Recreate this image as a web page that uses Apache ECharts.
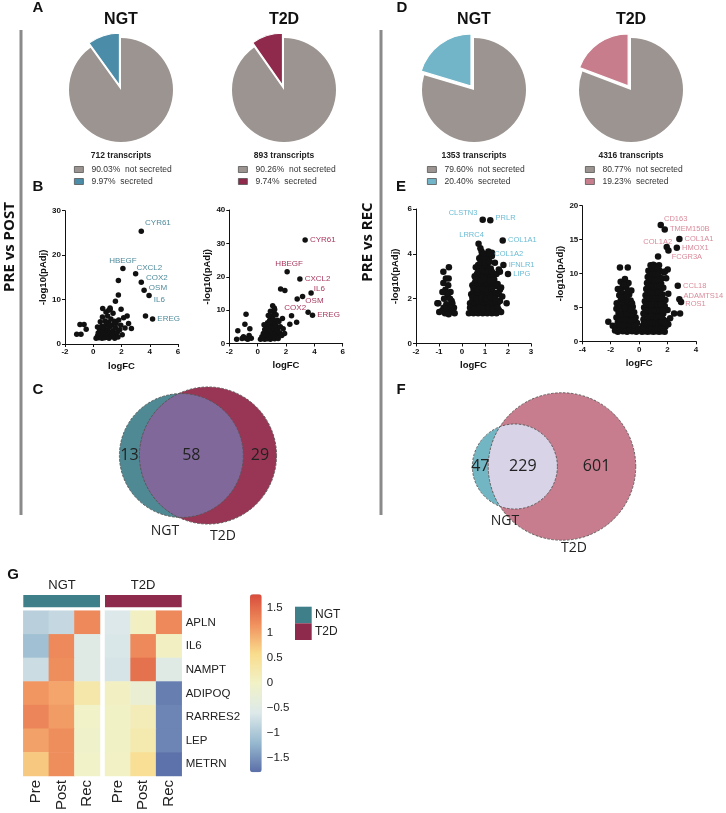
<!DOCTYPE html>
<html><head><meta charset="utf-8">
<script src="https://cdn.jsdelivr.net/npm/echarts@6/dist/echarts.min.js"></script>
<style>html,body{margin:0;padding:0;background:#fff}#c{width:726px;height:813px}</style>
</head><body><div id="c"></div>
<script>
// ---------------- DATA ----------------
const pieGroups = ['NGT', 'T2D', 'NGT', 'T2D'];
const pieTranscripts = [712, 893, 1353, 4316];
const pieNotSecreted = [90.03, 90.26, 79.60, 80.77];
const pieSecreted = [9.97, 9.74, 20.40, 19.23];

const bNGT_names = ['CYR61', 'HBEGF', 'CXCL2', 'COX2', 'OSM', 'IL6', 'EREG'];
const bNGT_labeled = [[3.4, 25.4], [2.1, 17.0], [3.0, 15.8], [3.4, 13.9], [3.6, 12.1], [3.95, 10.9], [4.2, 5.6]];
const bNGT_other = [[3.7, 6.3], [1.78, 14.3], [1.78, 11.0], [1.57, 9.6], [0.67, 8.0], [1.19, 8.1], [1.97, 7.8], [2.4, 6.3], [2.7, 3.5], [1.2, 7.8],
  [-1.17, 2.2], [-0.87, 2.2], [-0.94, 4.4], [-0.65, 4.4], [-0.5, 3.3],
  [0.2, 1.3], [0.3, 1.8], [0.35, 2.5], [0.4, 1.4], [0.45, 3.2], [0.5, 1.6], [0.55, 2.2], [0.6, 4.0], [0.62, 1.3], [0.7, 2.8], [0.72, 1.9], [0.78, 3.6],
  [0.8, 1.4], [0.85, 5.2], [0.88, 2.4], [0.9, 4.4], [0.95, 1.5], [1.0, 3.1], [1.02, 6.3], [1.05, 2.0], [1.1, 4.9], [1.12, 1.3], [1.15, 3.8], [1.2, 2.6],
  [1.25, 5.6], [1.3, 1.7], [1.32, 4.2], [1.38, 3.0], [1.4, 6.9], [1.45, 2.2], [1.5, 5.1], [1.52, 1.3], [1.58, 3.6], [1.62, 4.6], [1.7, 2.6], [1.75, 1.6],
  [1.8, 5.4], [1.88, 3.2], [1.95, 4.2], [2.05, 2.1], [2.15, 5.9], [2.25, 3.6], [2.5, 4.6], [0.3, 3.8], [0.5, 5.0], [0.65, 6.1], [0.9, 7.2], [1.1, 7.6]];

const bT2D_names = ['CYR61', 'HBEGF', 'CXCL2', 'IL6', 'OSM', 'COX2', 'EREG'];
const bT2D_labeled = [[3.35, 31.0], [2.08, 21.5], [2.98, 19.3], [3.77, 15.1], [3.17, 14.1], [2.79, 13.3], [3.87, 8.5]];
const bT2D_other = [[1.62, 16.3], [1.92, 15.9], [2.39, 8.3], [2.27, 5.8], [2.75, 6.4], [3.56, 9.4], [1.06, 11.3], [1.17, 10.6],
  [-0.82, 8.8], [-0.9, 5.8], [-1.4, 3.8], [-1.48, 1.3], [-0.55, 4.4], [-1.0, 2.0], [-0.8, 1.5], [-0.6, 2.4], [-0.7, 1.3], [-0.45, 1.6], [-1.1, 1.5],
  [0.2, 1.3], [0.3, 2.0], [0.35, 1.5], [0.4, 3.0], [0.45, 2.4], [0.5, 1.3], [0.5, 4.2], [0.55, 3.4], [0.6, 1.8], [0.6, 5.3], [0.65, 2.7], [0.7, 6.2],
  [0.7, 1.4], [0.75, 4.6], [0.8, 3.6], [0.8, 2.1], [0.85, 7.0], [0.85, 5.6], [0.9, 1.3], [0.9, 4.0], [0.95, 2.8], [1.0, 6.4], [1.0, 1.7], [1.0, 8.2],
  [1.05, 3.4], [1.05, 5.0], [1.1, 7.3], [1.1, 2.3], [1.15, 9.3], [1.15, 4.5], [1.2, 1.4], [1.2, 6.0], [1.25, 3.0], [1.3, 8.6], [1.3, 5.3], [1.35, 2.0],
  [1.4, 7.0], [1.4, 4.1], [1.45, 1.5], [1.5, 6.6], [1.55, 3.2], [1.6, 5.0], [1.7, 2.4], [1.75, 7.5], [1.8, 4.4], [1.9, 3.0], [0.9, 9.7], [1.2, 10.2],
  [0.75, 8.4], [0.45, 5.6]];

const eNGT_names = ['CLSTN3', 'PRLR', 'LRRC4', 'COL1A1', 'COL1A2', 'IFNLR1', 'LIPG'];
const eNGT_labeled = [[0.9, 5.52], [1.23, 5.5], [0.72, 4.45], [1.77, 4.6], [1.22, 4.02], [1.8, 3.5], [2.0, 3.1]];
const eNGT_other = [[1.43, 3.6], [0.8, 4.25], [0.85, 4.1], [1.65, 2.4], [1.94, 1.8],
  [-0.57, 3.4], [-0.81, 3.2], [-0.81, 2.7], [-1.07, 1.8], [-1.03, 1.8], [-0.99, 1.4], [-0.7, 2.9], [-0.6, 2.6], [-0.72, 2.4], [-0.5, 2.3], [-0.62, 2.1],
  [-0.78, 2.0], [-0.45, 1.9], [-0.55, 1.7], [-0.68, 1.75], [-0.8, 1.6], [-0.4, 1.5], [-0.5, 1.4], [-0.62, 1.45], [-0.74, 1.35], [-0.32, 1.35],
  [-0.42, 1.8], [-0.88, 1.45], [-0.66, 1.55], [-0.52, 2.0], [-0.35, 1.6], [-0.58, 2.9], [-0.66, 2.25], [-0.48, 1.6], [-0.85, 2.3], [-0.58, 1.3],
  [0.3, 1.35], [0.4, 1.5], [0.5, 1.35], [0.6, 1.45], [0.7, 1.35], [0.8, 1.5], [0.9, 1.35], [1.0, 1.45], [1.1, 1.35], [1.2, 1.5], [1.3, 1.35], [1.4, 1.45],
  [1.5, 1.35], [1.6, 1.5], [1.7, 1.4], [0.35, 1.8], [0.45, 1.9], [0.55, 1.75], [0.65, 1.85], [0.75, 1.8], [0.85, 1.9], [0.95, 1.75], [1.05, 1.85],
  [1.15, 1.8], [1.25, 1.9], [1.35, 1.75], [1.45, 1.85], [1.55, 1.8], [1.65, 1.9], [0.4, 2.2], [0.5, 2.3], [0.6, 2.15], [0.7, 2.25], [0.8, 2.2],
  [0.9, 2.3], [1.0, 2.15], [1.1, 2.25], [1.2, 2.2], [1.3, 2.3], [1.4, 2.15], [1.5, 2.25], [1.6, 2.2], [1.75, 2.1], [0.45, 2.6], [0.55, 2.7],
  [0.65, 2.55], [0.75, 2.65], [0.85, 2.6], [0.95, 2.7], [1.05, 2.55], [1.15, 2.65], [1.25, 2.6], [1.35, 2.7], [1.45, 2.55], [1.55, 2.65], [1.7, 2.5],
  [0.55, 3.0], [0.65, 3.1], [0.75, 2.95], [0.85, 3.05], [0.95, 3.0], [1.05, 3.1], [1.15, 2.95], [1.25, 3.05], [1.35, 3.0], [1.5, 3.1], [1.65, 3.2],
  [0.6, 3.4], [0.7, 3.5], [0.8, 3.35], [0.9, 3.45], [1.0, 3.4], [1.1, 3.5], [1.25, 3.35], [1.6, 3.3], [0.75, 3.8], [0.85, 3.9], [0.95, 3.75],
  [1.1, 3.85], [1.3, 3.9], [1.15, 4.1], [1.3, 4.05],
  [0.35, 1.6], [0.55, 1.55], [0.75, 1.6], [0.95, 1.55], [1.15, 1.6], [1.35, 1.55], [1.55, 1.6], [0.45, 2.05], [0.65, 2.0], [0.85, 2.05], [1.05, 2.0],
  [1.25, 2.05], [1.45, 2.0], [0.5, 2.45], [0.7, 2.4], [0.9, 2.45], [1.1, 2.4], [1.3, 2.45], [0.6, 2.85], [0.8, 2.8], [1.0, 2.85], [1.2, 2.8], [1.4, 2.85],
  [0.7, 3.2], [0.9, 3.25], [1.1, 3.2], [1.3, 3.2], [0.8, 3.6], [1.0, 3.6], [1.2, 3.65], [0.95, 4.0]];

const eT2D_names = ['CD163', 'TMEM150B', 'COL1A1', 'COL1A2', 'HMOX1', 'FCGR3A', 'CCL18', 'ADAMTS14', 'ROS1'];
const eT2D_labeled = [[1.52, 17.15], [1.8, 16.5], [2.83, 15.1], [1.94, 13.9], [2.65, 13.8], [2.06, 13.4], [2.72, 8.2], [2.83, 6.2], [2.95, 5.8]];
const eT2D_other = [[1.33, 12.5], [2.01, 10.6], [1.82, 10.3], [2.46, 4.1], [2.18, 3.4], [2.88, 4.1],
  [-1.35, 10.9], [-0.8, 10.9], [-1.58, 5.6], [-2.17, 2.9], [-1.86, 2.3], [-1.5, 7.7], [-1.2, 7.9], [-0.9, 8.0], [-1.4, 6.8], [-1.0, 7.0], [-0.7, 6.9],
  [-1.3, 6.0], [-0.95, 6.2], [-0.6, 6.0], [-1.6, 4.8], [-1.2, 5.2], [-0.8, 5.4], [-0.45, 5.1], [-1.45, 4.2], [-1.05, 4.5], [-0.7, 4.4], [-0.35, 4.3],
  [-1.6, 3.5], [-1.25, 3.7], [-0.9, 3.6], [-0.55, 3.8], [-0.25, 3.5], [-1.5, 2.8], [-1.15, 2.9], [-0.8, 2.8], [-0.45, 2.9], [-0.15, 2.7], [-1.65, 2.0],
  [-1.3, 2.1], [-0.95, 2.0], [-0.6, 2.2], [-0.3, 2.0], [-1.5, 1.4], [-1.15, 1.5], [-0.85, 1.4], [-0.5, 1.5], [-0.2, 1.4], [-1.0, 9.2], [-0.75, 8.6],
  [-1.3, 8.8], [-0.55, 7.5], [-1.7, 1.6], [-0.1, 1.9],
  [-1.35, 1.8], [-1.0, 1.7], [-0.65, 1.8], [-0.35, 1.7], [-1.4, 2.5], [-1.05, 2.4], [-0.7, 2.5], [-0.35, 2.4], [-1.35, 3.2], [-1.0, 3.2], [-0.7, 3.1],
  [-0.4, 3.2], [-1.3, 4.0], [-0.9, 4.1], [-0.55, 4.0], [-1.4, 5.0], [-1.0, 4.9], [-0.6, 4.7], [-1.1, 5.8], [-0.8, 6.0], [-0.5, 5.6], [-1.2, 6.5],
  [-0.85, 6.6], [-1.3, 7.3], [-0.8, 7.4], [-1.1, 8.4],
  [0.2, 1.4], [0.4, 1.5], [0.6, 1.4], [0.8, 1.5], [1.0, 1.4], [1.2, 1.5], [1.4, 1.4], [1.6, 1.5], [1.8, 1.4], [0.25, 2.3], [0.45, 2.2], [0.65, 2.4],
  [0.85, 2.2], [1.05, 2.3], [1.25, 2.2], [1.45, 2.4], [1.65, 2.3], [1.85, 2.2], [2.05, 2.5], [0.3, 3.2], [0.5, 3.1], [0.7, 3.3], [0.9, 3.1], [1.1, 3.2],
  [1.3, 3.3], [1.5, 3.1], [1.7, 3.2], [1.95, 3.0], [0.3, 4.1], [0.5, 4.2], [0.7, 4.0], [0.9, 4.2], [1.1, 4.1], [1.3, 4.0], [1.5, 4.2], [1.7, 4.1],
  [2.0, 4.6], [0.35, 5.0], [0.55, 5.1], [0.75, 4.9], [0.95, 5.1], [1.15, 5.0], [1.35, 4.9], [1.55, 5.1], [1.8, 5.2], [0.4, 5.9], [0.6, 6.0], [0.8, 5.8],
  [1.0, 6.0], [1.2, 5.9], [1.4, 5.8], [1.6, 6.0], [1.85, 6.1], [0.45, 6.8], [0.65, 6.9], [0.85, 6.7], [1.05, 6.9], [1.25, 6.8], [1.45, 6.7], [1.65, 6.9],
  [0.5, 7.7], [0.7, 7.8], [0.9, 7.6], [1.1, 7.8], [1.3, 7.7], [1.5, 7.6], [1.7, 7.9], [2.05, 7.0], [0.55, 8.6], [0.75, 8.7], [0.95, 8.5], [1.15, 8.7],
  [1.35, 8.6], [1.55, 8.5], [0.6, 9.5], [0.8, 9.6], [1.0, 9.4], [1.2, 9.6], [1.4, 9.5], [1.6, 9.3], [1.9, 9.3], [0.65, 10.4], [0.85, 10.5], [1.05, 10.3],
  [1.25, 10.5], [1.45, 10.4], [1.75, 10.2], [0.8, 11.2], [1.0, 11.3], [1.2, 11.1], [1.4, 11.2],
  [0.3, 1.85], [0.5, 1.8], [0.7, 1.9], [0.9, 1.85], [1.1, 1.8], [1.3, 1.9], [1.5, 1.85], [1.7, 1.8], [0.35, 2.75], [0.55, 2.7], [0.75, 2.8], [0.95, 2.7],
  [1.15, 2.75], [1.35, 2.7], [1.55, 2.8], [1.8, 2.7], [0.4, 3.65], [0.6, 3.6], [0.8, 3.7], [1.0, 3.65], [1.2, 3.6], [1.4, 3.7], [1.6, 3.65],
  [0.45, 4.55], [0.65, 4.6], [0.85, 4.5], [1.05, 4.6], [1.25, 4.55], [1.45, 4.6], [1.65, 4.5], [0.5, 5.45], [0.7, 5.5], [0.9, 5.4], [1.1, 5.5],
  [1.3, 5.45], [1.5, 5.5], [0.55, 6.35], [0.75, 6.4], [0.95, 6.3], [1.15, 6.4], [1.35, 6.35], [1.55, 6.4], [0.6, 7.25], [0.8, 7.3], [1.0, 7.2],
  [1.2, 7.3], [1.4, 7.25], [0.65, 8.15], [0.85, 8.2], [1.05, 8.1], [1.25, 8.2], [1.45, 8.15], [0.7, 9.05], [0.9, 9.1], [1.1, 9.0], [1.3, 9.1],
  [0.75, 9.95], [0.95, 10.0], [1.15, 9.9], [1.35, 10.0], [0.9, 10.8], [1.1, 10.85], [1.3, 10.8]];

// Venn counts: [NGT only, shared, T2D only]
const vennC_counts = [13, 58, 29];
const vennF_counts = [47, 229, 601];

// Heatmap
const heatGenes = ['APLN', 'IL6', 'NAMPT', 'ADIPOQ', 'RARRES2', 'LEP', 'METRN'];
const heatConditions = ['Pre', 'Post', 'Rec'];
const heatNGT = [[-0.9, -0.8, 1.25], [-1.1, 1.25, -0.5], [-0.75, 1.2, -0.5], [1.15, 1.02, 0.3], [1.28, 1.1, 0.0], [1.05, 1.2, -0.05], [0.75, 1.2, 0.0]];
const heatT2D = [[-0.6, 0.05, 1.25], [-0.62, 1.25, 0.06], [-0.65, 1.45, -0.5], [0.05, -0.2, -1.65], [0.02, 0.15, -1.6], [0.02, 0.25, -1.6], [0.03, 0.5, -1.75]];
const heatTicks = [-1.5, -1, -0.5, 0, 0.5, 1, 1.5];

// ---------------- STYLE / LAYOUT ----------------
const FONT = 'Liberation Sans';
const GREY = '#9b9491';
const pieColors = ['#4b8ca8', '#8f2a4c', '#72b5c9', '#c77d8c'];
const pieCenters = [[121, 90], [284, 90], [474, 90], [631, 90]];
const pieLegendLeft = [74, 238, 427, 585];

const chart = echarts.init(document.getElementById('c'), null, {renderer: 'canvas'});
const series = [];
const legends = [];
const graphics = [];

// Pies
pieGroups.forEach((g, i) => {
  const n1 = pieNotSecreted[i].toFixed(2) + '%  not secreted';
  const n2 = pieSecreted[i].toFixed(2) + '%  secreted';
  series.push({
    type: 'pie', center: pieCenters[i], radius: 52, startAngle: 90, clockwise: true, silent: true,
    selectedMode: 'single', selectedOffset: 5, label: {show: false}, labelLine: {show: false},
    emphasis: {disabled: true},
    data: [
      {name: n1, value: pieNotSecreted[i], itemStyle: {color: GREY}},
      {name: n2, value: pieSecreted[i], selected: true, itemStyle: {color: pieColors[i], borderColor: '#fff', borderWidth: 1.2}}
    ]
  });
  legends.push({
    data: [n1, n2], orient: 'vertical', left: pieLegendLeft[i], top: 165, padding: 0, itemGap: 3,
    itemWidth: 9, itemHeight: 6, icon: 'rect', selectedMode: false,
    itemStyle: {borderColor: '#555', borderWidth: 0.8},
    textStyle: {fontSize: 8.5, color: '#333', fontFamily: FONT, padding: [0, 0, 0, 3]}
  });
  graphics.push({type: 'text', x: pieCenters[i][0], y: 20, style: {text: g, font: 'bold 16px ' + FONT, fill: '#111', align: 'center', verticalAlign: 'middle', textAlign: 'center', textVerticalAlign: 'middle'}});
  graphics.push({type: 'text', x: pieCenters[i][0], y: 156, style: {text: pieTranscripts[i] + ' transcripts', font: 'bold 8.5px ' + FONT, fill: '#222', align: 'center', verticalAlign: 'middle', textAlign: 'center', textVerticalAlign: 'middle'}});
});

// Grids
const grids = [
  {left: 65, top: 210.7, width: 113, height: 133.3},
  {left: 229.3, top: 210, width: 113.4, height: 133.5},
  {left: 416, top: 209, width: 115, height: 134.5},
  {left: 582.3, top: 205.7, width: 113.7, height: 135.6},
  {left: 23.3, top: 610.7, width: 76.7, height: 166},
  {left: 105, top: 610.7, width: 76.7, height: 166},
  {left: 250, top: 594.3, width: 11.7, height: 178}
];
const volAxes = [
  {xmin: -2, xmax: 6, xi: 2, ymin: 0, ymax: 30, yi: 10},
  {xmin: -2, xmax: 6, xi: 2, ymin: 0, ymax: 40, yi: 10},
  {xmin: -2, xmax: 3, xi: 1, ymin: 0, ymax: 6, yi: 2},
  {xmin: -4, xmax: 4, xi: 2, ymin: 0, ymax: 20, yi: 5}
];
const xAxes = [], yAxes = [];
volAxes.forEach((a, i) => {
  const common = {
    gridIndex: i, type: 'value', splitLine: {show: false},
    axisLine: {show: true, onZero: false, lineStyle: {color: '#111', width: 1}},
    axisTick: {show: true, inside: false, length: 3, lineStyle: {color: '#111'}},
    axisLabel: {fontSize: 8, fontWeight: 'bold', color: '#111', fontFamily: FONT, margin: 4},
    nameTextStyle: {fontSize: 9.5, fontWeight: 'bold', color: '#111', fontFamily: FONT},
    nameLocation: 'middle'
  };
  xAxes.push(Object.assign({}, common, {min: a.xmin, max: a.xmax, interval: a.xi, name: 'logFC', nameGap: 17}));
  yAxes.push(Object.assign({}, common, {min: a.ymin, max: a.ymax, interval: a.yi, name: '-log10(pAdj)', nameGap: 16}));
});

const volLabelColors = ['#4f8b9c', '#a8385f', '#6bbcd4', '#d98b9b'];
const volLabelPlace = [
  [['right', [-1, -8]], ['top', [0, 1]], ['right', [-4, -6]], ['right', [0, -4]], ['right', [0, -2]], ['right', [0, 4]], ['right', [0, 0]]],
  [['right', [0, 0]], ['top', [2, 1]], ['right', [0, 0]], ['right', [-2, -4]], ['right', [-2, 4]], ['bottom', [-2, 0]], ['right', [0, 0]]],
  [['left', [0, -7]], ['right', [0, -2]], ['top', [-7, 0]], ['right', [0, 0]], ['right', [-1, 1]], ['right', [0, 0]], ['right', [0, 0]]],
  [['right', [-2, -6]], ['right', [0, 0]], ['right', [0, 0]], ['top', [-9, 4]], ['right', [0, 0]], ['right', [-2, 6]], ['right', [0, 0]], ['right', [-1, -3]], ['right', [-1, 2]]]
];
const volSymbol = [5.5, 5.5, 6.5, 6.5];
const volData = [
  [bNGT_names, bNGT_labeled, bNGT_other],
  [bT2D_names, bT2D_labeled, bT2D_other],
  [eNGT_names, eNGT_labeled, eNGT_other],
  [eT2D_names, eT2D_labeled, eT2D_other]
];
volData.forEach((d, i) => {
  const [names, lab, other] = d;
  const fs = i < 2 ? 8 : 7.5;
  const data = other.map(p => ({value: p}));
  lab.forEach((p, k) => {
    const pl = volLabelPlace[i][k];
    data.push({value: p, name: names[k], label: {show: true, position: pl[0], offset: pl[1]}});
  });
  series.push({
    type: 'scatter', xAxisIndex: i, yAxisIndex: i, symbolSize: volSymbol[i], silent: true,
    itemStyle: {color: '#111', opacity: 1},
    label: {show: false, formatter: '{b}', color: volLabelColors[i], fontSize: fs, fontFamily: FONT, distance: 2},
    emphasis: {disabled: true},
    data: data
  });
});

// Heatmap axes
[4, 5].forEach((gi, k) => {
  xAxes.push({gridIndex: gi, type: 'category', data: heatConditions, axisLine: {show: false}, axisTick: {show: false},
    axisLabel: {rotate: 90, fontSize: 15, color: '#222', fontFamily: FONT, margin: 4}});
  yAxes.push({gridIndex: gi, type: 'category', data: heatGenes, inverse: true, position: 'right', show: k === 1,
    axisLine: {show: false}, axisTick: {show: false}, axisLabel: {fontSize: 11.5, color: '#222', fontFamily: FONT, margin: 4}});
});
// colorbar axis
xAxes.push({gridIndex: 6, type: 'value', show: false, min: 0, max: 1});
yAxes.push({gridIndex: 6, type: 'value', min: -1.78, max: 1.78, position: 'right', splitLine: {show: false},
  axisLine: {show: false}, axisTick: {show: false},
  axisLabel: {customValues: heatTicks, fontSize: 11.5, color: '#222', fontFamily: FONT, margin: 5,
    formatter: v => (v < 0 ? '\u2212' + Math.abs(v) : String(v))}});

const heatIdx = [];
[heatNGT, heatT2D].forEach((m, k) => {
  const data = [];
  m.forEach((row, r) => row.forEach((v, c) => data.push([c, r, v])));
  heatIdx.push(series.length);
  series.push({type: 'heatmap', xAxisIndex: 4 + k, yAxisIndex: 4 + k, data: data, silent: true,
    itemStyle: {borderWidth: 0}, emphasis: {disabled: true}});
});

// Venn diagrams
function lensArea(r1, r2, d) {
  if (d >= r1 + r2) return 0;
  if (d <= Math.abs(r1 - r2)) return Math.PI * Math.min(r1, r2) ** 2;
  const a1 = Math.acos((d * d + r1 * r1 - r2 * r2) / (2 * d * r1));
  const a2 = Math.acos((d * d + r2 * r2 - r1 * r1) / (2 * d * r2));
  const k = Math.sqrt((-d + r1 + r2) * (d + r1 - r2) * (d - r1 + r2) * (d + r1 + r2));
  return r1 * r1 * a1 + r2 * r2 * a2 - 0.5 * k;
}
function vennSeries(counts, cfg) {
  return {
    type: 'custom', coordinateSystem: 'none', silent: true, data: [0],
    renderItem: function () {
      const [a, ab, b] = counts;
      const s = cfg.scale;
      const r1 = s * Math.sqrt(a + ab), r2 = s * Math.sqrt(b + ab);
      const target = Math.PI * s * s * ab;
      let lo = Math.abs(r1 - r2), hi = r1 + r2;
      for (let i = 0; i < 60; i++) { const d = (lo + hi) / 2; if (lensArea(r1, r2, d) > target) lo = d; else hi = d; }
      const d = (lo + hi) / 2;
      const cy = cfg.cy, c2x = cfg.cx, c1x = c2x - d;
      const ax = (d * d + r1 * r1 - r2 * r2) / (2 * d);
      const h = Math.sqrt(Math.max(0, r1 * r1 - ax * ax));
      const pts = [];
      const t1 = Math.atan2(-h, ax), t2 = Math.atan2(h, ax);
      for (let i = 0; i <= 90; i++) { const t = t1 + (t2 - t1) * i / 90; pts.push([c1x + r1 * Math.cos(t), cy + r1 * Math.sin(t)]); }
      const u2 = Math.atan2(h, ax - d); let u1 = Math.atan2(-h, ax - d); if (u1 < u2) u1 += 2 * Math.PI;
      for (let i = 0; i <= 90; i++) { const u = u2 + (u1 - u2) * i / 90; pts.push([c2x + r2 * Math.cos(u), cy + r2 * Math.sin(u)]); }
      const dash = {fill: 'none', stroke: '#555', lineWidth: 0.9, lineDash: [2.5, 1.5]};
      const txt = (x, y, t, size) => ({type: 'text', x: x, y: y, style: {text: t, fill: '#222', font: size + 'px ' + cfg.font,
        align: 'center', verticalAlign: 'middle', textAlign: 'center', textVerticalAlign: 'middle'}});
      return {type: 'group', children: [
        {type: 'circle', shape: {cx: c1x, cy: cy, r: r1}, style: {fill: cfg.colors[0]}},
        {type: 'circle', shape: {cx: c2x, cy: cy, r: r2}, style: {fill: cfg.colors[2]}},
        {type: 'polygon', shape: {points: pts}, style: {fill: cfg.colors[1]}},
        {type: 'circle', shape: {cx: c1x, cy: cy, r: r1}, style: dash},
        {type: 'circle', shape: {cx: c2x, cy: cy, r: r2}, style: dash},
        txt((c1x - r1 + c2x - r2) / 2, cy, String(a), 16),
        txt((c2x - r2 + c1x + r1) / 2, cy, String(ab), 16),
        txt((c1x + r1 + c2x + r2) / 2, cy, String(b), 16),
        txt(cfg.lblNGT[0], cfg.lblNGT[1], 'NGT', 14),
        txt(cfg.lblT2D[0], cfg.lblT2D[1], 'T2D', 14)
      ]};
    }
  };
}
series.push(vennSeries(vennC_counts, {scale: 7.35, cx: 208, cy: 455.5, colors: ['#4f8a94', '#80699a', '#9a3655'], font: '"Open Sans"', lblNGT: [165, 531], lblT2D: [223, 536]}));
series.push(vennSeries(vennF_counts, {scale: 2.56, cx: 562, cy: 466.5, colors: ['#72b6c3', '#d8d3e7', '#c77d8d'], font: '"Open Sans"', lblNGT: [505, 521], lblT2D: [574, 548]}));

// Static text & decorations
function T(x, y, text, font, opts) {
  return Object.assign({type: 'text', x: x, y: y, silent: true, style: Object.assign({text: text, font: font, fill: '#111',
    align: 'center', verticalAlign: 'middle', textAlign: 'center', textVerticalAlign: 'middle'}, (opts && opts.style) || {})},
    opts && opts.rotation !== undefined ? {rotation: opts.rotation} : {});
}
const LF = 'bold 15px ' + FONT;
graphics.push(T(38, 8, 'A', LF), T(38, 187, 'B', LF), T(38, 390, 'C', LF), T(402, 8, 'D', LF), T(401, 187, 'E', LF), T(401, 390, 'F', LF), T(13, 575, 'G', LF));
graphics.push({type: 'line', silent: true, shape: {x1: 21, y1: 30, x2: 21, y2: 515}, style: {stroke: '#8a8a8a', lineWidth: 3}});
graphics.push({type: 'line', silent: true, shape: {x1: 381, y1: 30, x2: 381, y2: 515}, style: {stroke: '#8a8a8a', lineWidth: 3}});
graphics.push(T(10, 247, 'PRE vs POST', 'bold 15px "Open Sans"', {rotation: Math.PI / 2}));
graphics.push(T(368, 242, 'PRE vs REC', 'bold 15px "Open Sans"', {rotation: Math.PI / 2}));
// heatmap annotation
graphics.push({type: 'rect', silent: true, shape: {x: 23.3, y: 595, width: 76.7, height: 12.3}, style: {fill: '#3f7f8a'}});
graphics.push({type: 'rect', silent: true, shape: {x: 105, y: 595, width: 76.7, height: 12.3}, style: {fill: '#8e2b4d'}});
graphics.push(T(62, 585, 'NGT', '13px ' + FONT, {style: {fill: '#222'}}));
graphics.push(T(143, 585, 'T2D', '13px ' + FONT, {style: {fill: '#222'}}));
graphics.push({type: 'rect', silent: true, shape: {x: 295, y: 606.7, width: 16.7, height: 16.6}, style: {fill: '#3f7f8a'}});
graphics.push({type: 'rect', silent: true, shape: {x: 295, y: 623.3, width: 16.7, height: 16.7}, style: {fill: '#8e2b4d'}});
graphics.push(T(315, 615, 'NGT', '12px ' + FONT, {style: {fill: '#222', align: 'left', textAlign: 'left'}}));
graphics.push(T(315, 632, 'T2D', '12px ' + FONT, {style: {fill: '#222', align: 'left', textAlign: 'left'}}));

chart.setOption({
  animation: false,
  textStyle: {fontFamily: FONT},
  grid: grids,
  xAxis: xAxes,
  yAxis: yAxes,
  legend: legends,
  visualMap: {type: 'continuous', min: -1.78, max: 1.78, seriesIndex: heatIdx, calculable: false, hoverLink: false,
    left: 250, top: 594.3, itemWidth: 11.7, itemHeight: 178, padding: 0, text: null, orient: 'vertical',
    inRange: {color: ['#5a6ea8', '#97b9cf', '#dde9ea', '#f1f2c8', '#f9dc8c', '#f0905e', '#d84c3c']}},
  series: series,
  graphic: {elements: graphics}
});
</script></body></html>
